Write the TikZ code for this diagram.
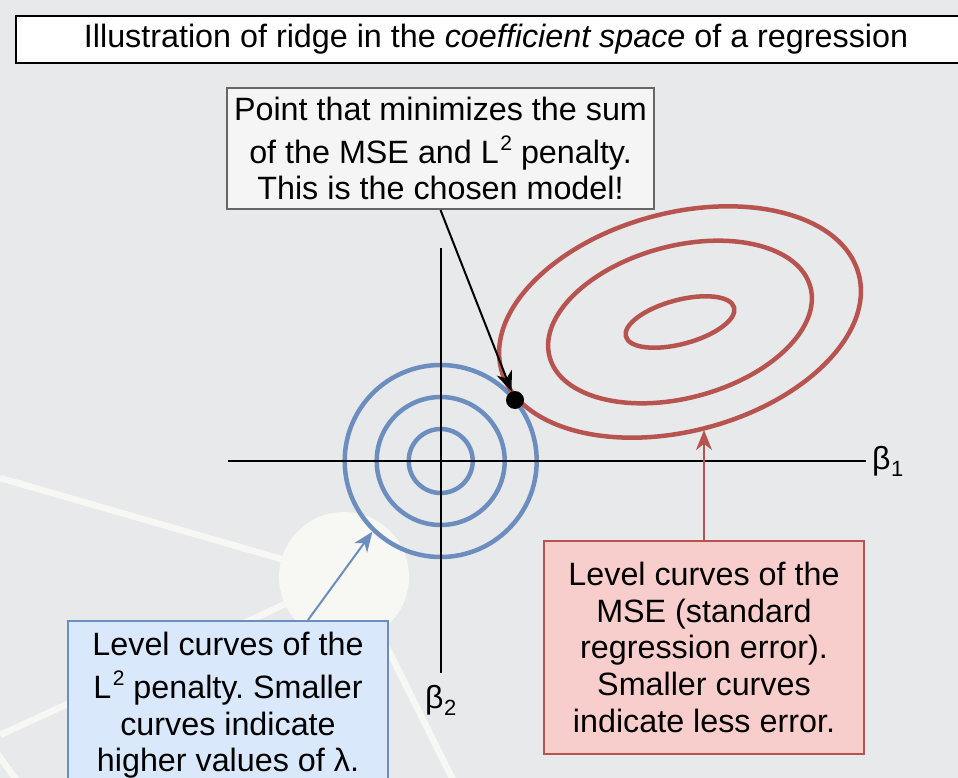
\documentclass[tikz,border=0pt]{standalone}
\usepackage{fontspec}
\setmainfont{Liberation Sans}
\frenchspacing
\usetikzlibrary{arrows.meta,calc,shapes.geometric}
\definecolor{bgc}{HTML}{E8E9EB}
\definecolor{faintc}{HTML}{F7F7F3}
\definecolor{blueS}{HTML}{6C8EBF}
\definecolor{blueF}{HTML}{DAE8FC}
\definecolor{redS}{HTML}{B85450}
\definecolor{redF}{HTML}{F8CECC}
\definecolor{grayS}{HTML}{666666}
\definecolor{grayF}{HTML}{F5F5F5}
\newcommand{\supTwo}{\kern1.5pt\raisebox{13pt}{\fontsize{21}{21}\selectfont 2}}
\newcommand{\subDigit}[1]{\kern0.5pt\raisebox{-7pt}{\fontsize{22}{22}\selectfont #1}}
\tikzset{
  txt/.style={font=\fontsize{32.3}{36.6}\selectfont, align=center, inner sep=0pt},
  graybox/.style={txt, draw=grayS, fill=grayF, line width=2pt},
  bluebox/.style={txt, draw=blueS, fill=blueF, line width=2pt},
  redbox/.style={txt, draw=redS, fill=redF, line width=2pt},
  titlebox/.style={draw=black, fill=white, line width=2pt, inner sep=0pt, font=\fontsize{32.3}{36}\selectfont},
  ringB/.style={circle, draw=blueS, line width=4.5pt, inner sep=0pt},
  ringR/.style={ellipse, draw=redS, line width=4.5pt, inner sep=0pt, rotate=15},
  axisline/.style={draw=black, line width=2pt},
  faintline/.style={draw=faintc, line width=6.5pt},
  conn/.style={line width=2pt, -{Stealth[length=20pt,width=16pt,inset=6pt]}},
  axlabel/.style={font=\fontsize{32}{36}\selectfont, inner sep=0pt}
}
\begin{document}
\begin{tikzpicture}[x=1pt,y=-1pt]
\useasboundingbox (0,0) rectangle (958,778);
\fill[bgc] (0,0) rectangle (958,778);
% faint background drawing
\begin{scope}
\clip (0,0) rectangle (958,778);
\draw[faintline] (0,478) -- (344,577);
\draw[faintline] (0,735) -- (344,577);
\draw[faintline] (352,577) -- (458,790);
\draw[faintline] (-6,749) -- (22,788);
\fill[faintc] (344,577) circle[radius=65pt];
\end{scope}
% title
\node[titlebox, minimum width=960pt, minimum height=47pt, anchor=north west] (title) at (15,15)
  {Illustration of ridge in the \textit{coefficient space} of a regression};
% level curves of the L2 penalty
\coordinate (o) at (440.7,461);
\node[ringB, minimum size=64pt] (c1) at (o) {};
\node[ringB, minimum size=128pt] (c2) at (o) {};
\node[ringB, minimum size=192pt] (c3) at (o) {};
% level curves of the MSE
\coordinate (m) at (680,322);
\node[ringR, minimum width=112pt, minimum height=44pt] (e1) at (m) {};
\node[ringR, minimum width=270pt, minimum height=152pt] (e2) at (m) {};
\node[ringR, minimum width=370pt, minimum height=218pt] (e3) at (m) {};
% axes
\node[axlabel, anchor=west, inner xsep=6pt] (b1) at (866,461) {β\subDigit{1}};
\node[axlabel, anchor=north, inner ysep=12pt] (b2) at (440.7,673) {β\subDigit{2}};
\coordinate (xl) at (228,461);
\coordinate (yt) at (440.7,248);
\draw[axisline] (xl) -- (b1);
\draw[axisline] (yt) -- (b2);
% optimum
\node[circle, fill=black, minimum size=18pt, inner sep=0pt] (opt) at (515,400) {};
% boxes
\node[graybox, minimum width=427pt, minimum height=121pt] (pt) at (440.5,148.5)
  {Point that minimizes the sum\\[6pt] of the MSE and L\supTwo{} penalty.\\ This is the chosen model!};
\node[redbox, minimum width=320pt, minimum height=213pt] (rb) at (704,647.4)
  {Level curves of the\\ MSE (standard\\ regression error).\\ Smaller curves\\ indicate less error.};
\node[bluebox, minimum width=320pt, minimum height=169pt] (bb) at (228,705.5)
  {Level curves of the\\[6pt] L\supTwo{} penalty. Smaller\\ curves indicate\\ higher values of λ.};
% connectors
\coordinate (rtip) at (704,430);
\draw[conn, black] (pt.south) -- (opt);
\draw[conn, blueS] ($(bb.north)+(80,0)$) -- (c3.226);
\draw[conn, redS] (rb.north) -- (rtip);
\end{tikzpicture}
\end{document}
